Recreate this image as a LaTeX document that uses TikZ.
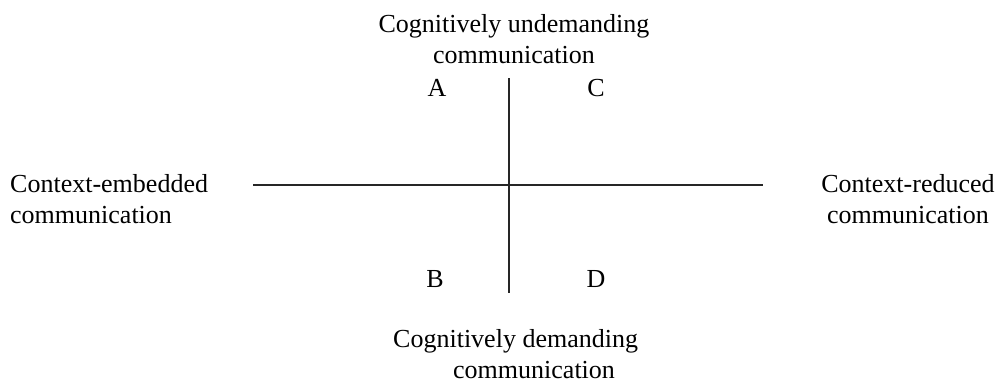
\documentclass[tikz,border=0pt]{standalone}
\usepackage{fontspec}
\setmainfont{Liberation Serif}
\begin{document}
\begin{tikzpicture}[x=1pt,y=-1pt,
  lbl/.style={inner sep=0pt, font=\fontsize{26}{30.5}\selectfont},
  axis/.style={line width=1.8pt, black!85}]
\useasboundingbox (0,0) rectangle (1002,383);
% axes
\coordinate (vt) at (509,78);
\coordinate (vb) at (509,293);
\coordinate (hl) at (253,185);
\coordinate (hr) at (763,185);
\draw[axis] (vt) -- (vb);
\draw[axis] (hl) -- (hr);
% pole labels (base anchor = baseline of last line)
\node[lbl, anchor=base, align=center] (top) at (514,63) {Cognitively undemanding\\communication};
\node[lbl, anchor=base west, align=left] (bot) at (393,378) {Cognitively demanding\\\hspace*{60pt}communication};
\node[lbl, anchor=base west, align=left] (left) at (10,223) {Context-embedded\\communication};
\node[lbl, anchor=base, align=center] (right) at (908,223) {Context-reduced\\communication};
% quadrants
\node[lbl, anchor=base] (A) at (437,96) {A};
\node[lbl, anchor=base] (C) at (596,96) {C};
\node[lbl, anchor=base] (B) at (435,287) {B};
\node[lbl, anchor=base] (D) at (596,287) {D};
\end{tikzpicture}
\end{document}
